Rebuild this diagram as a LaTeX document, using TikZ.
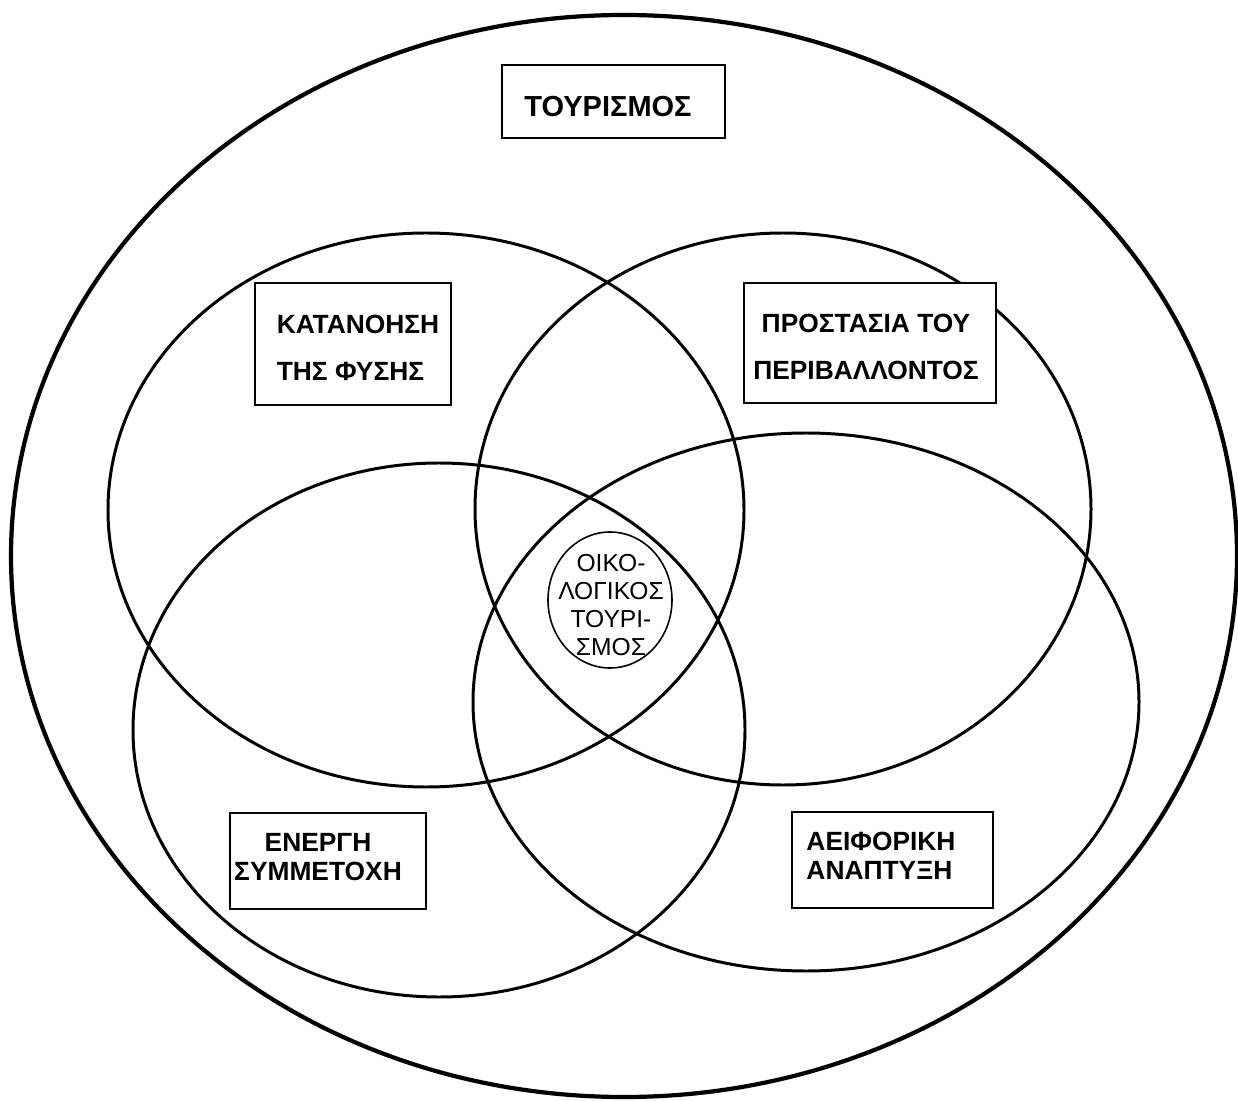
\documentclass[tikz,border=0pt]{standalone}
\usepackage{fontspec}
\setmainfont{Liberation Sans}
\begin{document}
\begin{tikzpicture}[x=0.02cm,y=-0.02cm,
    venn/.style={line width=1.7pt},
    frame/.style={line width=1.1pt,fill=white},
    tag/.style={inner sep=0pt,font=\fontsize{15}{27}\selectfont\bfseries},
    tagtight/.style={tag,font=\fontsize{15}{16.5}\selectfont\bfseries}]
            \useasboundingbox (0,0) rectangle (1238,1101);
            % Outer set
            \draw[line width=2.4pt] (624,556) ellipse [x radius=613, y radius=541];

            % Four sets
            \draw[venn] (426,510) ellipse [x radius=318, y radius=277];
            \draw[venn] (783,509) ellipse [x radius=308, y radius=276];
            \draw[venn] (439,730) ellipse [x radius=306, y radius=267];
            \draw[venn] (806,702) ellipse [x radius=333, y radius=269];
            \draw[line width=0.9pt] (610,600) ellipse [x radius=62, y radius=68];

            \draw[frame] (502,65) rectangle (725,138);
            \draw[frame] (255,283) rectangle (451,405);
            \draw[frame] (744,283) rectangle (996,403);
            \draw[frame] (230,813) rectangle (426,909);
            \draw[frame] (792,812) rectangle (993,908);

            \node[tag,font=\fontsize{16.5}{20}\selectfont\bfseries] (tourism) at (608,107) {ΤΟΥΡΙΣΜΟΣ};
            \node[tag,align=left] (nature) at (358,348) {ΚΑΤΑΝΟΗΣΗ\\ΤΗΣ ΦΥΣΗΣ};
            \node[tag,align=center] (protect) at (866,347) {ΠΡΟΣΤΑΣΙΑ ΤΟΥ\\ΠΕΡΙΒΑΛΛΟΝΤΟΣ};
            \node[tagtight,align=center] (active) at (318,857) {ΕΝΕΡΓΗ\\ΣΥΜΜΕΤΟΧΗ};
            \node[tagtight,align=left] (sustain) at (881,856) {ΑΕΙΦΟΡΙΚΗ\\ΑΝΑΠΤΥΞΗ};
            % centre
            \node[inner sep=0pt,align=center,font=\fontsize{14}{16}\selectfont] (eco) at (611,605) {ΟΙΚΟ-\\ΛΟΓΙΚΟΣ\\ΤΟΥΡΙ-\\ΣΜΟΣ};

\end{tikzpicture}
\end{document}
